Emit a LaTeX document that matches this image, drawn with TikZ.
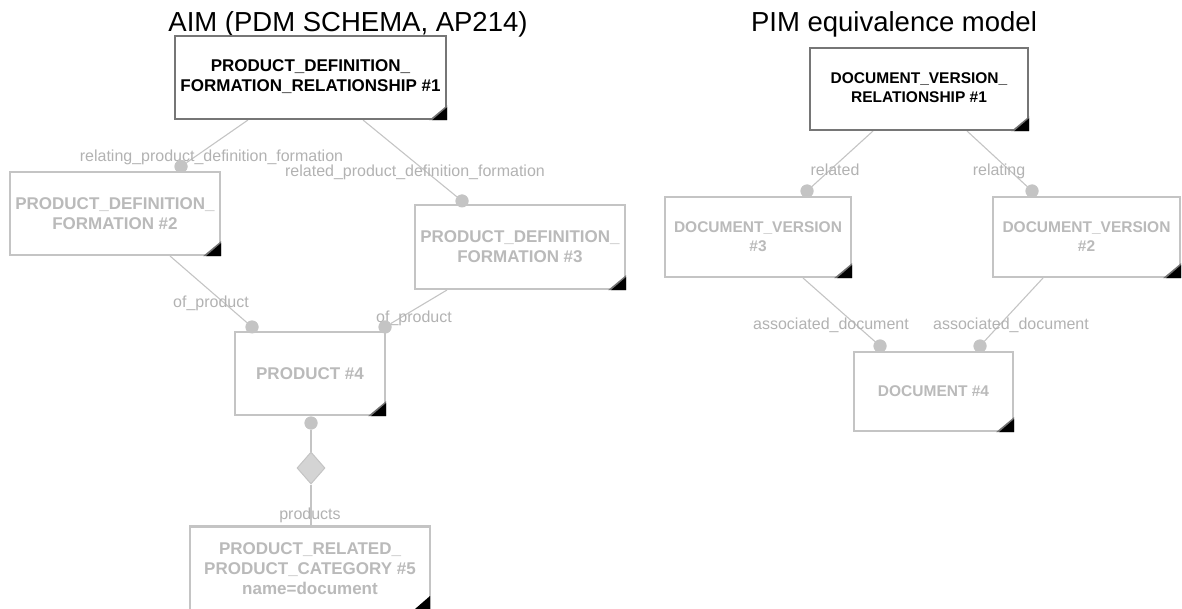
\documentclass[tikz,border=0pt]{standalone}
\usepackage{fontspec}
\setmainfont{Liberation Sans}
\usetikzlibrary{shapes.geometric,calc}

\definecolor{edgegray}{RGB}{196,196,196}
\definecolor{textgray}{RGB}{186,186,186}
\definecolor{labelgray}{RGB}{178,178,178}
\definecolor{darkframe}{RGB}{118,118,118}
\definecolor{diamondfill}{RGB}{212,212,212}

\tikzset{
  entity/.style={draw=edgegray, line width=2.2pt, fill=white, rectangle,
    inner sep=0pt, align=center, text=textgray,
    font=\fontsize{17}{20}\selectfont\bfseries},
  compact/.style={font=\fontsize{15.5}{19}\selectfont\bfseries},
  focus/.style={entity, draw=darkframe, line width=2.4pt, text=black},
  conn/.style={draw=edgegray, line width=1.1pt},
  attach/.style={circle, fill=edgegray, inner sep=0pt, minimum size=13pt},
  role/.style={text=labelgray, inner sep=0pt, anchor=base,
    font=\fontsize{16}{19}\selectfont},
  heading/.style={text=black, inner sep=0pt, anchor=base,
    font=\fontsize{27.5}{33}\selectfont},
  aggregate/.style={diamond, fill=diamondfill, draw=edgegray, line width=1pt,
    inner sep=0pt, minimum width=28pt, minimum height=32pt}
}

% two centred lines, lowered slightly inside the box
\newcommand\twolines[2]{\raisebox{-2pt}{\begin{tabular}{@{}c@{}}#1\\#2\end{tabular}}}

% dog-ear mark in the lower right corner of an entity box
\newcommand\dogear[1]{%
  \fill[black!55] ($(#1.south east)+(-18,0)$) -- ++(18,-15) -- ++(0,15) -- cycle;
  \fill[black] ($(#1.south east)+(-15,0)$) -- ++(15,-13) -- ++(0,13) -- cycle;}

\begin{document}
\begin{tikzpicture}[x=1pt,y=-1pt]
\useasboundingbox (0,0) rectangle (1182,609);

% headings
\node[heading] (h1) at (348,32) {AIM (PDM SCHEMA, AP214)};
\node[heading] (h2) at (894,32) {PIM equivalence model};

% ---------- left model ----------
\coordinate (b1a) at (248,120);
\coordinate (b1b) at (363,120);
\coordinate (b2a) at (170,256);
\coordinate (b3a) at (447,290);

\node[attach] (d2) at (181,166.5) {};
\node[attach] (d3) at (462,201) {};
\node[attach] (d4a) at (252,327) {};
\node[attach] (d4b) at (385,327) {};
\node[attach] (d4c) at (311,423) {};
\node[aggregate] (agg) at (311,468) {};
\coordinate (b5top) at (311,527);

\draw[conn] (b1a) -- (d2);
\draw[conn] (b1b) -- (d3);
\draw[conn] (b2a) -- (d4a);
\draw[conn] (b3a) -- (d4b);
\draw[conn] (d4c) -- (agg) -- (b5top);

\node[role] (r1) at (211.5,162) {relating\_product\_definition\_formation};
\node[role] (r2) at (415,177) {related\_product\_definition\_formation};
\node[role] (r3) at (211,307) {of\_product};
\node[role] (r4) at (414,322) {of\_product};
\node[role] (r5) at (310,519) {products};

\node[focus, minimum width=271pt, minimum height=83pt] (b1) at (310.5,77.5)
  {\twolines{PRODUCT\_DEFINITION\_}{FORMATION\_RELATIONSHIP \#1}};
\node[entity, minimum width=210pt, minimum height=83pt] (b2) at (115,213.5)
  {PRODUCT\_DEFINITION\_\\FORMATION \#2};
\node[entity, minimum width=210pt, minimum height=84pt] (b3) at (520,247)
  {PRODUCT\_DEFINITION\_\\FORMATION \#3};
\node[entity, minimum width=150pt, minimum height=83pt] (b4) at (310,373.5)
  {PRODUCT \#4};
\node[entity, minimum width=240pt, minimum height=85pt] (b5) at (310,569)
  {PRODUCT\_RELATED\_\\PRODUCT\_CATEGORY \#5\\name=document};

\foreach \b in {b1,b2,b3,b4} {\dogear{\b}}
\fill[black] (430,609) -- ++(-15,0) -- ++(15,-13) -- cycle;

% attachment dots sit over the box edges
\node[attach] at (d2) {};
\node[attach] at (d3) {};
\node[attach] at (d4a) {};
\node[attach] at (d4b) {};
\node[attach] at (d4c) {};

% ---------- right model ----------
\coordinate (c1a) at (873,131);
\coordinate (c1b) at (967,131);
\coordinate (c3a) at (803,278);
\coordinate (c2a) at (1043,278);

\node[attach] (e3) at (807,191) {};
\node[attach] (e2) at (1032,191) {};
\node[attach] (e4a) at (880,346) {};
\node[attach] (e4b) at (980,346) {};

\draw[conn] (c1a) -- (e3);
\draw[conn] (c1b) -- (e2);
\draw[conn] (c3a) -- (e4a);
\draw[conn] (c2a) -- (e4b);

\node[role] (s1) at (835,176) {related};
\node[role] (s2) at (999,176) {relating};
\node[role] (s3) at (831,329) {associated\_document};
\node[role] (s4) at (1011,329) {associated\_document};

\node[focus, compact, minimum width=218pt, minimum height=82pt] (c1) at (919,89)
  {\twolines{DOCUMENT\_VERSION\_}{RELATIONSHIP \#1}};
\node[entity, compact, minimum width=186pt, minimum height=80pt] (c3) at (758,237)
  {DOCUMENT\_VERSION\\\#3};
\node[entity, compact, minimum width=187pt, minimum height=80pt] (c2) at (1086.5,237)
  {DOCUMENT\_VERSION\\\#2};
\node[entity, compact, minimum width=159pt, minimum height=79pt] (c4) at (933.5,391.5)
  {DOCUMENT \#4};

\foreach \b in {c1,c2,c3,c4} {\dogear{\b}}

\node[attach] at (e3) {};
\node[attach] at (e2) {};
\node[attach] at (e4a) {};
\node[attach] at (e4b) {};

\end{tikzpicture}
\end{document}
